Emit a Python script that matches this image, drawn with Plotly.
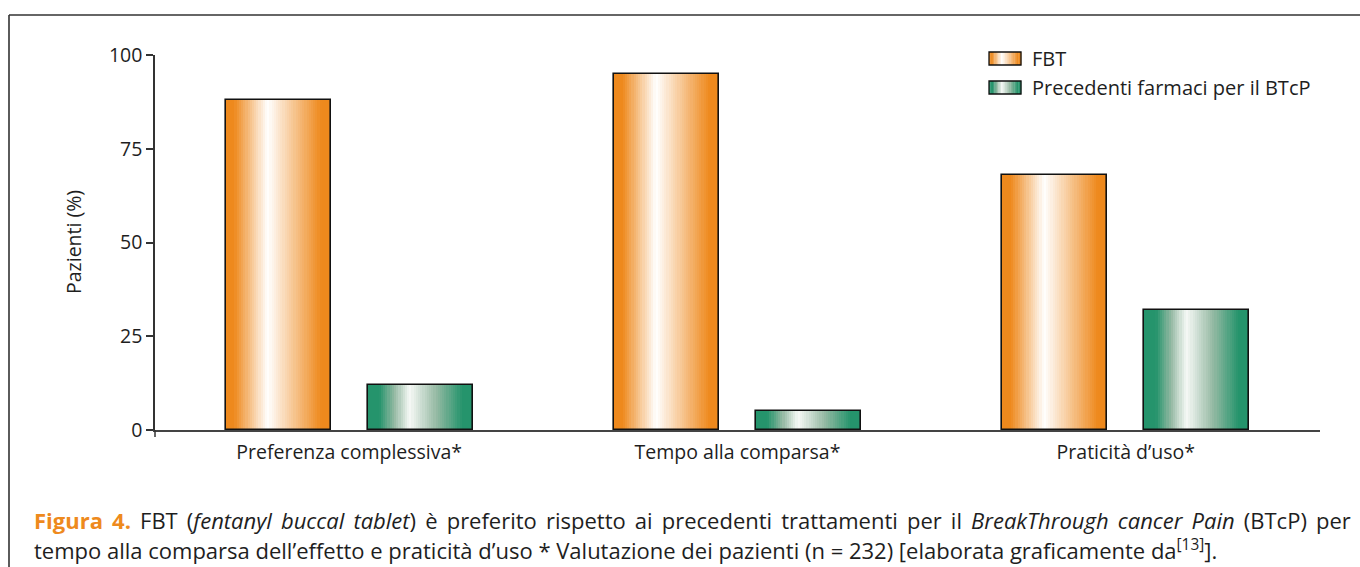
import plotly.graph_objects as go

# Data
categories = ["Preferenza complessiva*", "Tempo alla comparsa*", "Praticità d’uso*"]
series_names = ["FBT", "Precedenti farmaci per il BTcP"]
fbt_values = [88, 95, 68]
prev_values = [12, 5, 32]
y_ticks = [0, 25, 50, 75, 100]

FONT = "Open Sans"
TXT = "#1e1e1e"

# Plot-area geometry in pixels (used for paper-coordinate decorations)
L, R, T, B = 155, 1320, 55, 430
W, H = 1360, 567


def px(x):
    return (x - L) / (R - L)


def py(y):
    return (B - y) / (B - T)


def mix(c1, c2, t):
    return tuple(round(a + (b - a) * t) for a, b in zip(c1, c2))


def rgb(c):
    return "rgb(%d,%d,%d)" % c


ORANGE = (238, 137, 29)
WHITE = (255, 255, 255)
GREEN = (37, 148, 108)
GREEN_MID = (150, 186, 164)
GREEN_WHITE = (246, 249, 246)


def orange_grad(t):
    # solid edges, white highlight left of centre
    if t <= 0.08 or t >= 0.91:
        return ORANGE
    if t < 0.40:
        return mix(ORANGE, WHITE, (t - 0.08) / 0.32)
    return mix(WHITE, ORANGE, (t - 0.40) / 0.51)


def green_grad(t):
    if t <= 0.11 or t >= 0.90:
        return GREEN
    if t < 0.40:
        u = (t - 0.11) / 0.29
        return mix(GREEN, GREEN_MID, u / 0.5) if u < 0.5 else mix(GREEN_MID, GREEN_WHITE, (u - 0.5) / 0.5)
    u = (t - 0.40) / 0.50
    return mix(GREEN_WHITE, GREEN_MID, u / 0.5) if u < 0.5 else mix(GREEN_MID, GREEN, (u - 0.5) / 0.5)


xpos = list(range(len(categories)))
bar_w = 0.27
offsets = [-0.183 - bar_w / 2, 0.183 - bar_w / 2]
N = 48

fig = go.Figure()
for values, off, grad, name in [
    (fbt_values, offsets[0], orange_grad, series_names[0]),
    (prev_values, offsets[1], green_grad, series_names[1]),
]:
    sw = bar_w / N
    for i in range(N):
        fig.add_trace(go.Bar(
            x=xpos, y=values, width=sw * 1.06, offset=off + i * sw,
            marker=dict(color=rgb(grad((i + 0.5) / N)), line=dict(width=0)),
            showlegend=False, hoverinfo="skip", name=name,
        ))
    # outline
    fig.add_trace(go.Bar(
        x=xpos, y=values, width=bar_w, offset=off, name=name,
        marker=dict(color="rgba(0,0,0,0)", line=dict(color="#111", width=1.6)),
        showlegend=False,
    ))

shapes = []
# frame lines
shapes.append(dict(type="line", xref="paper", yref="paper", x0=px(9), x1=px(1362), y0=py(15), y1=py(15),
                   line=dict(color="#333", width=1.6)))
shapes.append(dict(type="line", xref="paper", yref="paper", x0=px(9), x1=px(9), y0=py(15), y1=py(570),
                   line=dict(color="#333", width=1.6)))
# y-axis extends slightly below zero
shapes.append(dict(type="line", xref="paper", yref="paper", x0=0, x1=0, y0=0, y1=py(437),
                   line=dict(color="#333", width=1.5)))

# legend swatches
for (y0, y1), grad in [((52, 65), orange_grad), ((81, 94), green_grad)]:
    x0, x1 = 989, 1021
    n = 24
    for i in range(n):
        a = x0 + (x1 - x0) * i / n
        b = x0 + (x1 - x0) * (i + 1) / n + 0.3
        shapes.append(dict(type="rect", xref="paper", yref="paper", x0=px(a), x1=px(b), y0=py(y1), y1=py(y0),
                           fillcolor=rgb(grad((i + 0.5) / n)), line=dict(width=0)))
    shapes.append(dict(type="rect", xref="paper", yref="paper", x0=px(x0), x1=px(x1), y0=py(y1), y1=py(y0),
                       fillcolor="rgba(0,0,0,0)", line=dict(color="#111", width=1.3)))

LEG = 20
CAP = 22
annotations = [
    dict(text=series_names[0], x=px(1030), y=py(58.5), xref="paper", yref="paper", xanchor="left",
         yanchor="middle", showarrow=False, font=dict(family=FONT, size=LEG, color=TXT)),
    dict(text=series_names[1], x=px(1030), y=py(88), xref="paper", yref="paper", xanchor="left",
         yanchor="middle", showarrow=False, font=dict(family=FONT, size=LEG, color=TXT)),
    dict(text="Pazienti (%)", x=px(73), y=py(242), xref="paper", yref="paper", textangle=-90,
         xanchor="center", yanchor="middle", showarrow=False, font=dict(family=FONT, size=19.5, color=TXT)),
    # first caption line is justified: widen the word spacing
    dict(text="<span style='word-spacing:3.4px'><b><span style='color:#EE8A1D'>Figura 4.</span></b> FBT "
              "(<i>fentanyl buccal tablet</i>) è preferito rispetto ai precedenti trattamenti per il "
              "<i>BreakThrough cancer Pain</i> (BTcP) per</span>",
         x=px(32), y=py(520), xref="paper", yref="paper", xanchor="left", yanchor="middle",
         showarrow=False, font=dict(family=FONT, size=CAP, color=TXT)),
    dict(text="tempo alla comparsa dell’effetto e praticità d’uso * Valutazione dei pazienti (n = 232) "
              "[elaborata graficamente da<sup>[13]</sup>].",
         x=px(32), y=py(549), xref="paper", yref="paper", xanchor="left", yanchor="middle",
         showarrow=False, font=dict(family=FONT, size=CAP, color=TXT)),
]

fig.update_layout(
    width=W, height=H,
    margin=dict(l=L, r=W - R, t=T, b=H - B),
    paper_bgcolor="white", plot_bgcolor="white",
    barmode="overlay", bargap=0,
    showlegend=False,
    shapes=shapes, annotations=annotations,
    font=dict(family=FONT, size=19, color=TXT),
)
fig.update_xaxes(
    range=[-0.5, 2.5], tickvals=xpos, ticktext=categories, showgrid=False, zeroline=False,
    showline=True, linecolor="#444", linewidth=2, ticks="", ticklabelstandoff=4,
    tickfont=dict(family=FONT, size=19.5, color=TXT),
)
fig.update_yaxes(
    range=[0, 100], tickvals=y_ticks, showgrid=False, zeroline=False, showline=True,
    linecolor="#333", linewidth=1.5, ticks="outside", ticklen=7, tickcolor="#333", tickwidth=1.5,
    tickfont=dict(family=FONT, size=19.5, color=TXT),
)

fig.write_html("out.html")
